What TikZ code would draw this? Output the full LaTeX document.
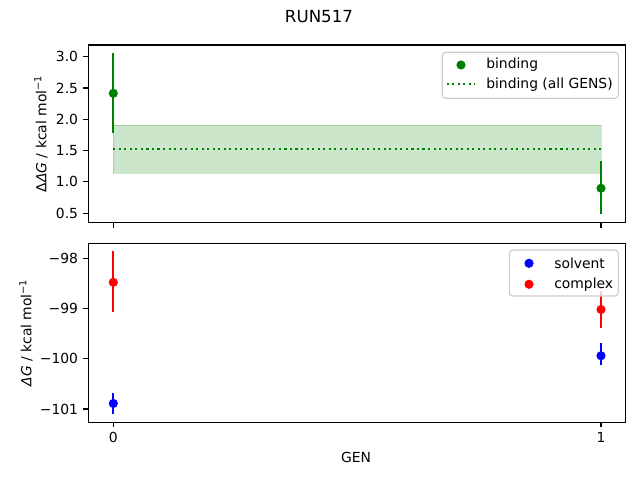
\documentclass[tikz,border=0pt]{standalone}
\usepackage{fontspec}
\setmainfont{DejaVu Sans}
\usepackage{tikz}
\definecolor{mplgreen}{RGB}{0,128,0}
\definecolor{mplblue}{RGB}{0,0,255}
\definecolor{mplred}{RGB}{255,0,0}
\definecolor{legedge}{gray}{0.8}
\tikzset{
  every node/.style={font=\fontsize{10}{12}\selectfont},
  axisframe/.style={draw,line width=0.8pt},
  tickmark/.style={line width=0.8pt},
  errbar/.style={line width=1.5pt},
  datapoint/.style={circle,fill=#1,inner sep=0pt,minimum size=6.6pt},
  legendbox/.style={draw=legedge,line width=0.8pt,fill=white,fill opacity=0.8,rounded corners=2.5pt},
  legendtext/.style={anchor=west,inner sep=0pt},
  ticklabel/.style={inner sep=0pt},
}
\newcommand{\dG}{\textit{ΔG}}

\begin{document}
\begin{tikzpicture}[x=0.72pt,y=0.72pt]
\useasboundingbox (0,0) rectangle (640,480);
% title
\node[font=\fontsize{12}{14}\selectfont] (title) at (319,463.3) {RUN517};

% upper panel: binding
\draw[axisframe] (88.3,257.3) rectangle (625.4,435);
\foreach \v/\t in {0.5/0.5,1.0/1.0,1.5/1.5,2.0/2.0,2.5/2.5,3.0/3.0}{
  \pgfmathsetmacro\py{235.5+62.6*\v}
  \draw[tickmark] (88.3,\py) -- ++(-4.86,0) node[ticklabel,left=3.5pt] (ytick\t) {\t};
}
\foreach \px in {113.3,601}
  \draw[tickmark] (\px,257.3) -- ++(0,-4.86);
\begin{scope}[shift={(113.3,235.5)},xscale=487.7,yscale=62.6]
  \fill[mplgreen,fill opacity=0.2,draw=mplgreen,draw opacity=0.2] (0,1.137) rectangle (1,1.909);
  \draw[mplgreen,line width=1.5pt,dash pattern=on 1.5pt off 2.475pt] (0,1.523) -- (1,1.523);
  \draw[errbar,mplgreen] (0,1.786) -- (0,3.054);
  \draw[errbar,mplgreen] (1,0.480) -- (1,1.334);
  \node[datapoint=mplgreen] (bind0) at (0,2.415) {};
  \node[datapoint=mplgreen] (bind1) at (1,0.898) {};
\end{scope}
\node[rotate=90] (ylabtop) at (41,346.1) {Δ\dG{} / kcal mol\textsuperscript{−1}};
% legend of the upper panel
\draw[legendbox] (442.3,381.7) rectangle (618.3,427.7);
\node[datapoint=mplgreen] (legbind) at (461,415) {};
\node[legendtext] (legbindtxt) at (486,415) {binding};
\coordinate (legallA) at (446.7,395.7);
\coordinate (legallB) at (475,395.7);
\draw[mplgreen,line width=1.5pt,dash pattern=on 1.5pt off 2.475pt] (legallA) -- (legallB);
\node[legendtext] (legalltxt) at (486,395.7) {binding (all GENS)};

% lower panel: solvent and complex
\draw[axisframe] (88.3,57.7) rectangle (625.4,236.7);
\foreach \v/\t in {-98/−98,-99/−99,-100/−100,-101/−101}{
  \pgfmathsetmacro\py{221.7+50.23*(\v+98)}
  \draw[tickmark] (88.3,\py) -- ++(-4.86,0) node[ticklabel,left=3.5pt] {\t};
}
\foreach \px/\t in {113.3/0,601/1}
  \draw[tickmark] (\px,57.7) -- ++(0,-4.86) node[ticklabel,below=3.5pt] (xtick\t) {\t};
\begin{scope}[shift={(113.3,121.24)},xscale=487.7,yscale=50.23]
  \draw[errbar,mplblue] (0,-1.10) -- (0,-0.68);
  \draw[errbar,mplblue] (1,-0.13) -- (1,0.31);
  \draw[errbar,mplred] (0,0.94) -- (0,2.15);
  \draw[errbar,mplred] (1,0.62) -- (1,1.35);
  \node[datapoint=mplblue] (solv0) at (0,-0.89) {};
  \node[datapoint=mplblue] (solv1) at (1,0.06) {};
  \node[datapoint=mplred] (cplx0) at (0,1.522) {};
  \node[datapoint=mplred] (cplx1) at (1,0.98) {};
\end{scope}
\node[rotate=90] (ylabbot) at (26,147.2) {\dG{} / kcal mol\textsuperscript{−1}};
\node (xlab) at (356,23) {GEN};
% legend of the lower panel
\draw[legendbox] (509.3,184) rectangle (618.3,230);
\node[datapoint=mplblue] (legsolv) at (529,216.7) {};
\node[legendtext] (legsolvtxt) at (554,216.7) {solvent};
\node[datapoint=mplred] (legcplx) at (529,195.7) {};
\node[legendtext] (legcplxtxt) at (554,195.7) {complex};
\end{tikzpicture}
\end{document}
